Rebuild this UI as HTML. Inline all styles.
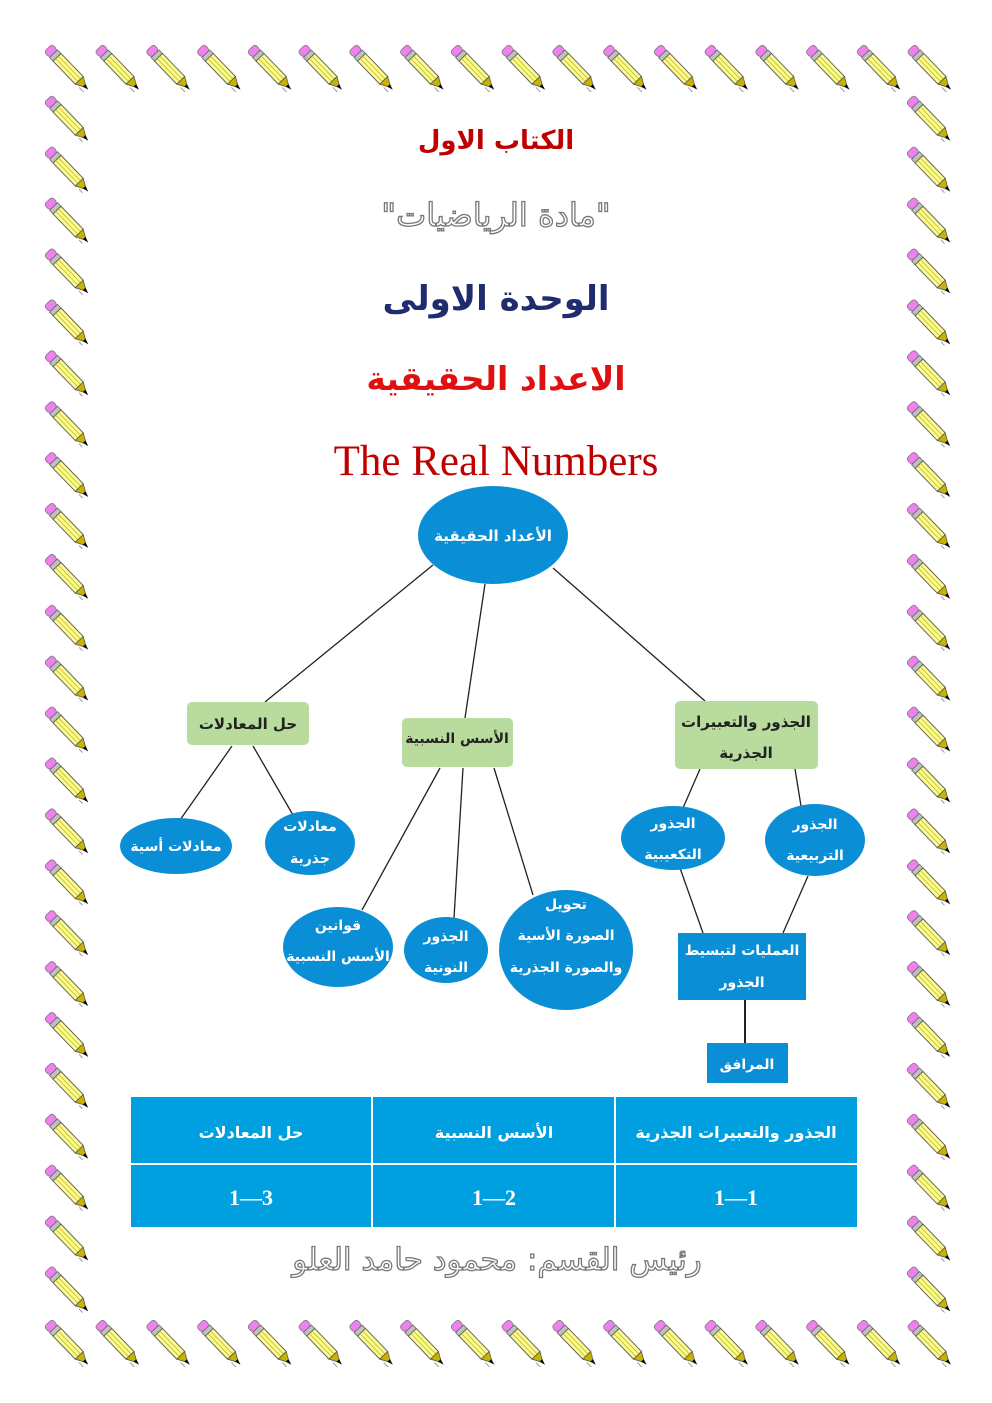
<!DOCTYPE html>
<html><head><meta charset="utf-8"><style>
html,body{margin:0;padding:0;background:#fff}
svg{display:block}
.ar{font-family:"DejaVu Sans","Liberation Sans",sans-serif;font-weight:bold}
</style></head><body>
<svg width="992" height="1403" viewBox="0 0 992 1403" xmlns="http://www.w3.org/2000/svg">
<defs>
<g id="pen">
 <g transform="translate(8,8) rotate(46)">
  <rect x="0" y="-5.5" width="8" height="11" rx="3" fill="#f080f0" stroke="#777" stroke-width="0.8"/>
  <rect x="8" y="-5.5" width="5" height="11" fill="#c0c0c0" stroke="#666" stroke-width="0.8"/>
  <rect x="13" y="-5.5" width="32" height="11" fill="#ffff90" stroke="#555" stroke-width="0.9"/>
  <line x1="13" y1="-1.8" x2="45" y2="-1.8" stroke="#c8c040" stroke-width="1"/>
  <line x1="13" y1="1.8" x2="45" y2="1.8" stroke="#c8c040" stroke-width="1"/>
  <polygon points="45,-5.5 55,0 45,5.5" fill="#c8b400" stroke="#555" stroke-width="0.8"/>
  <polygon points="52,-1.8 58,0 52,1.8" fill="#000"/>
  <line x1="50" y1="5" x2="60" y2="5" stroke="#999" stroke-width="1"/>
 </g>
</g>
<pattern id="ph" x="40" y="40" width="50.75" height="52" patternUnits="userSpaceOnUse"><use href="#pen"/></pattern>
<pattern id="pv" x="40" y="40" width="52" height="50.9" patternUnits="userSpaceOnUse"><use href="#pen"/></pattern>
<pattern id="pv2" x="902" y="40" width="52" height="50.9" patternUnits="userSpaceOnUse"><use href="#pen"/></pattern>
<pattern id="pb" x="40" y="1315" width="50.75" height="52" patternUnits="userSpaceOnUse"><use href="#pen"/></pattern>
</defs>
<rect x="40" y="40" width="915" height="52" fill="url(#ph)"/>
<rect x="40" y="1315" width="915" height="52" fill="url(#pb)"/>
<rect x="40" y="91" width="52" height="1222" fill="url(#pv)"/>
<rect x="902" y="91" width="52" height="1222" fill="url(#pv2)"/>

<!-- titles -->
<text x="496" y="149" text-anchor="middle" class="ar" font-size="26" fill="#c00000">الكتاب الاول</text>
<text x="496" y="226" text-anchor="middle" font-family="DejaVu Sans, sans-serif" font-size="32" fill="#fff" stroke="#777" stroke-width="1.3">"مادة الرياضيات"</text>
<text x="496" y="310" text-anchor="middle" class="ar" font-size="34" fill="#1f2d6e">الوحدة الاولى</text>
<text x="496" y="390" text-anchor="middle" class="ar" font-size="33" fill="#e01010">الاعداد الحقيقية</text>
<text x="496" y="475" text-anchor="middle" font-family="Liberation Serif, serif" font-size="43" fill="#c00000">The Real Numbers</text>

<!-- connectors -->
<g stroke="#222" stroke-width="1.3" fill="none">
<line x1="433" y1="565" x2="265" y2="702"/>
<line x1="485" y1="584" x2="465" y2="718"/>
<line x1="553" y1="568" x2="705" y2="701"/>
<line x1="232" y1="746" x2="180" y2="820"/>
<line x1="253" y1="746" x2="293" y2="815"/>
<line x1="440" y1="768" x2="362" y2="910"/>
<line x1="463" y1="768" x2="454" y2="918"/>
<line x1="494" y1="768" x2="533" y2="895"/>
<line x1="700" y1="769" x2="683" y2="808"/>
<line x1="795" y1="769" x2="801" y2="806"/>
<line x1="680" y1="868" x2="703" y2="933"/>
<line x1="808" y1="876" x2="783" y2="933"/>
<line x1="745" y1="1000" x2="745" y2="1043" stroke-width="2"/>
</g>

<!-- root -->
<ellipse cx="493" cy="535" rx="75" ry="49" fill="#0a8fd6"/>
<text x="493" y="541" text-anchor="middle" class="ar" font-size="15" fill="#fff">الأعداد الحقيقية</text>

<!-- green boxes -->
<rect x="187" y="702" width="122" height="43" rx="5" fill="#b9dc9e"/>
<text x="248" y="729" text-anchor="middle" class="ar" font-size="15" fill="#222">حل المعادلات</text>
<rect x="402" y="718" width="111" height="49" rx="5" fill="#b9dc9e"/>
<text x="457" y="743" text-anchor="middle" class="ar" font-size="14" fill="#222">الأسس النسبية</text>
<rect x="675" y="701" width="143" height="68" rx="5" fill="#b9dc9e"/>
<text x="746" y="727" text-anchor="middle" class="ar" font-size="15" fill="#222">الجذور والتعبيرات</text>
<text x="746" y="758" text-anchor="middle" class="ar" font-size="15" fill="#222">الجذرية</text>

<!-- blue ellipses -->
<g fill="#0a8fd6">
<ellipse cx="176" cy="846" rx="56" ry="28"/>
<ellipse cx="310" cy="843" rx="45" ry="32"/>
<ellipse cx="338" cy="947" rx="55" ry="40"/>
<ellipse cx="446" cy="950" rx="42" ry="33"/>
<ellipse cx="566" cy="950" rx="67" ry="60"/>
<ellipse cx="673" cy="838" rx="52" ry="32"/>
<ellipse cx="815" cy="840" rx="50" ry="36"/>
<rect x="678" y="933" width="128" height="67"/>
<rect x="707" y="1043" width="81" height="40"/>
</g>
<g class="ar" font-size="14" fill="#fff" text-anchor="middle">
<text x="176" y="851">معادلات أسية</text>
<text x="310" y="831">معادلات</text>
<text x="310" y="863">جذرية</text>
<text x="338" y="930">قوانين</text>
<text x="338" y="961">الأسس النسبية</text>
<text x="446" y="941">الجذور</text>
<text x="446" y="972">النونية</text>
<text x="566" y="909">تحويل</text>
<text x="566" y="940">الصورة الأسية</text>
<text x="566" y="972">والصورة الجذرية</text>
<text x="673" y="828">الجذور</text>
<text x="673" y="859">التكعيبية</text>
<text x="815" y="829">الجذور</text>
<text x="815" y="860">التربيعية</text>
<text x="742" y="955">العمليات لتبسيط</text>
<text x="742" y="987">الجذور</text>
<text x="747" y="1069">المرافق</text>
</g>

<!-- table -->
<rect x="131" y="1097" width="726" height="130" fill="#00a0e0"/>
<g stroke="#fff" stroke-width="2">
<line x1="131" y1="1164" x2="857" y2="1164"/>
<line x1="372" y1="1097" x2="372" y2="1227"/>
<line x1="615" y1="1097" x2="615" y2="1227"/>
</g>
<g class="ar" font-size="16" fill="#fff" text-anchor="middle">
<text x="736" y="1138">الجذور والتعبيرات الجذرية</text>
<text x="494" y="1138">الأسس النسبية</text>
<text x="251" y="1138">حل المعادلات</text>
</g>
<g font-family="Liberation Serif, serif" font-weight="bold" font-size="22" fill="#fff" text-anchor="middle">
<text x="736" y="1205">1—1</text>
<text x="494" y="1205">1—2</text>
<text x="251" y="1205">1—3</text>
</g>

<text x="497" y="1270" text-anchor="middle" font-family="DejaVu Sans, sans-serif" font-size="31" fill="#fff" stroke="#777" stroke-width="1.3">رئيس القسم: محمود حامد العلو</text>
</svg>
</body></html>
